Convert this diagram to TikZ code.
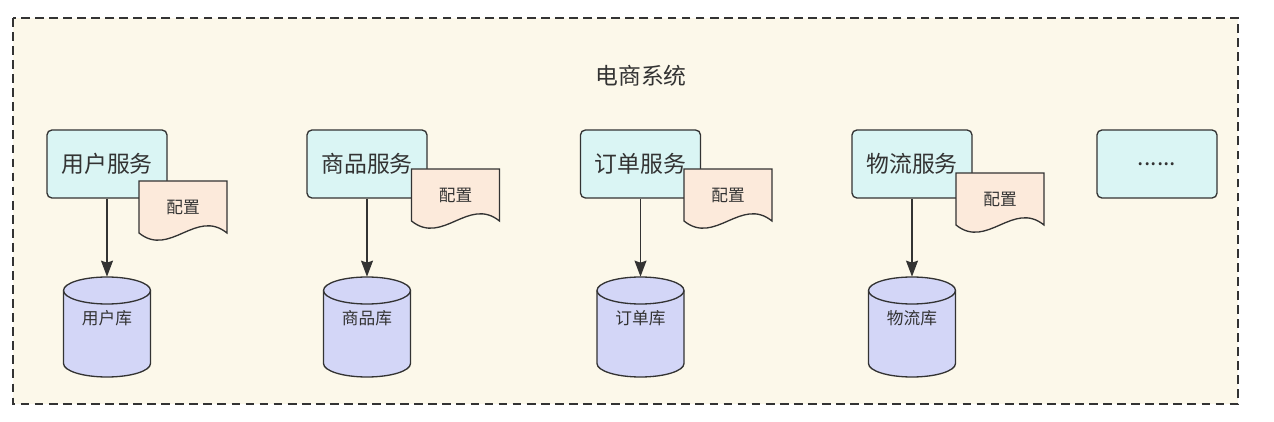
\documentclass[tikz,border=0pt]{standalone}
\usepackage{fontspec}
\setmainfont{Noto Sans CJK SC}
\usepackage{tikz}
\usetikzlibrary{arrows.meta, positioning}

\definecolor{bgcream}{HTML}{FCF8EA}
\definecolor{svcfill}{HTML}{DAF5F4}
\definecolor{cfgfill}{HTML}{FCEADB}
\definecolor{dbfill}{HTML}{D3D6F7}
\definecolor{ink}{HTML}{333333}

\begin{document}
\begin{tikzpicture}[
    frame/.style={draw=ink, line width=0.7pt, dash pattern=on 5pt off 3pt, fill=bgcream},
    title/.style={text=ink, font=\fontsize{13}{15}\selectfont},
    svc/.style={rectangle, rounded corners=2.8pt, draw=ink, line width=0.75pt, fill=svcfill,
        minimum width=2.4cm, minimum height=1.36cm, text=ink, font=\fontsize{13}{15}\selectfont},
    cfgline/.style={draw=ink, line width=0.75pt, fill=cfgfill},
    cfg/.style={rectangle, minimum width=1.76cm, minimum height=1.04cm, text=ink, font=\fontsize{9.5}{11}\selectfont},
    dbline/.style={draw=ink, line width=0.75pt, fill=dbfill},
    db/.style={rectangle, minimum width=1.74cm, minimum height=2.0cm, text height=0.25cm, text depth=0.35cm,
        text=ink, font=\fontsize{9.5}{11}\selectfont},
    arrow/.style={-{Stealth[length=0.32cm, width=0.24cm, inset=0.04cm]}, draw=ink, line width=0.75pt}
]
\useasboundingbox (0,0) rectangle (25.48,-8.44);

% System frame
\draw[frame] (0.26,-0.36) rectangle (24.76,-8.08);
\node[title] (sys) at (12.82,-1.51) {电商系统};

% Services
\node[svc] (usr) at (2.14,-3.28) {用户服务};
\node[svc] (prd) at (7.34,-3.28) {商品服务};
\node[svc] (ord) at (12.81,-3.28) {订单服务};
\node[svc] (log) at (18.24,-3.28) {物流服务};
\node[svc] (more) at (23.14,-3.28) {......};

% Configs
\filldraw[cfgline] (3.66,-4.14) ++(-0.88,0.52) -- ++(1.76,0) -- ++(0,-1.04)
    .. controls +(-0.62,0.5) and +(0.62,-0.5) .. ++(-1.76,0) -- cycle;
\node[cfg] (usrcfg) at (3.66,-4.14) {配置};
\filldraw[cfgline] (9.11,-3.90) ++(-0.88,0.52) -- ++(1.76,0) -- ++(0,-1.04)
    .. controls +(-0.62,0.5) and +(0.62,-0.5) .. ++(-1.76,0) -- cycle;
\node[cfg] (prdcfg) at (9.11,-3.90) {配置};
\filldraw[cfgline] (14.56,-3.90) ++(-0.88,0.52) -- ++(1.76,0) -- ++(0,-1.04)
    .. controls +(-0.62,0.5) and +(0.62,-0.5) .. ++(-1.76,0) -- cycle;
\node[cfg] (ordcfg) at (14.56,-3.90) {配置};
\filldraw[cfgline] (20.00,-3.98) ++(-0.88,0.52) -- ++(1.76,0) -- ++(0,-1.04)
    .. controls +(-0.62,0.5) and +(0.62,-0.5) .. ++(-1.76,0) -- cycle;
\node[cfg] (logcfg) at (20.00,-3.98) {配置};

% Databases
\filldraw[dbline] (1.27,-5.81) -- ++(0,-1.46) arc (180:360:0.87 and 0.27) -- ++(0,1.46) arc (0:180:0.87 and 0.27) -- cycle;
\draw[dbline, fill=none] (1.27,-5.81) arc (180:360:0.87 and 0.27);
\node[db] (usrdb) at (2.14,-6.54) {用户库};
\filldraw[dbline] (6.47,-5.81) -- ++(0,-1.46) arc (180:360:0.87 and 0.27) -- ++(0,1.46) arc (0:180:0.87 and 0.27) -- cycle;
\draw[dbline, fill=none] (6.47,-5.81) arc (180:360:0.87 and 0.27);
\node[db] (prddb) at (7.34,-6.54) {商品库};
\filldraw[dbline] (11.94,-5.81) -- ++(0,-1.46) arc (180:360:0.87 and 0.27) -- ++(0,1.46) arc (0:180:0.87 and 0.27) -- cycle;
\draw[dbline, fill=none] (11.94,-5.81) arc (180:360:0.87 and 0.27);
\node[db] (orddb) at (12.81,-6.54) {订单库};
\filldraw[dbline] (17.37,-5.81) -- ++(0,-1.46) arc (180:360:0.87 and 0.27) -- ++(0,1.46) arc (0:180:0.87 and 0.27) -- cycle;
\draw[dbline, fill=none] (17.37,-5.81) arc (180:360:0.87 and 0.27);
\node[db] (logdb) at (18.24,-6.54) {物流库};

% Arrows
\draw[arrow] (usr) -- (usrdb);
\draw[arrow] (prd) -- (prddb);
\draw[arrow] (ord) -- (orddb);
\draw[arrow] (log) -- (logdb);

\end{tikzpicture}
\end{document}
